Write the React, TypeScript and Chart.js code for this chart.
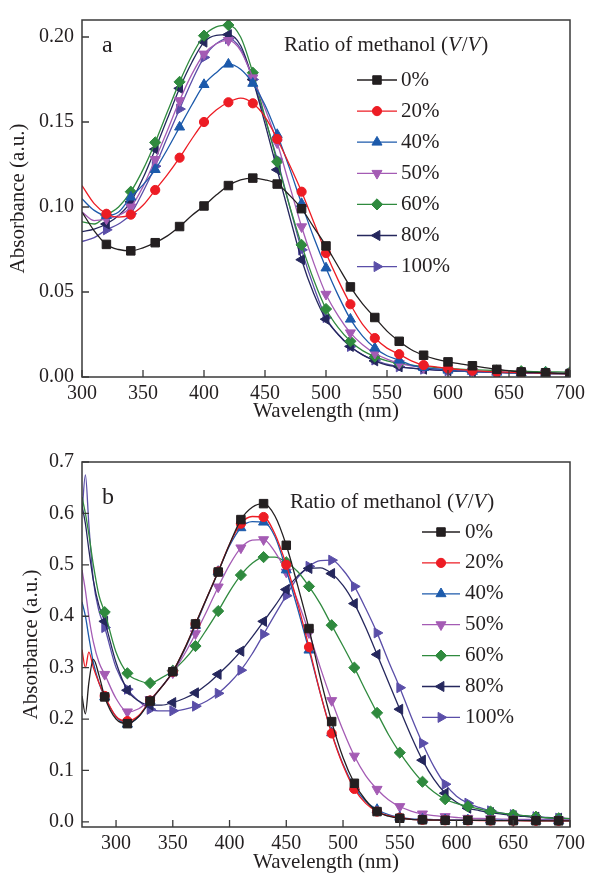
import React, { useEffect, useRef } from 'react';
import { Chart, registerables } from 'chart.js';
import { drawPoint } from 'chart.js/helpers';

Chart.register(...registerables);

const FONT = "'Liberation Serif', 'Times New Roman', serif";
const TEXT = '#231f20';

const seriesLabels = ['0%', '20%', '40%', '50%', '60%', '80%', '100%'];
const seriesColors = ['#231f20', '#ed1c24', '#1c5aab', '#a45bb4', '#2f8a3e', '#25275d', '#5a4ea8'];
const seriesMarkers = ['rect', 'circle', 'triangle', 'triangle', 'rectRot', 'triangle', 'triangle'];
const seriesRotations = [0, 0, 0, 180, 0, -90, 90];
const seriesRadius = [6, 4.6, 5.8, 5.8, 5.6, 5.8, 5.8];

// ---------- Panel a ----------
const wavelengthA = [300, 310, 320, 330, 340, 350, 360, 370, 380, 390, 400, 410, 420, 430, 440, 450, 460, 470, 480, 490, 500, 510, 520, 530, 540, 550, 560, 570, 580, 590, 600, 610, 620, 630, 640, 650, 660, 670, 680, 690, 700];
const absA0 = [0.097, 0.086, 0.078, 0.075, 0.0742, 0.076, 0.079, 0.083, 0.0885, 0.095, 0.1006, 0.107, 0.1126, 0.116, 0.117, 0.116, 0.1135, 0.107, 0.099, 0.088, 0.0771, 0.065, 0.053, 0.043, 0.035, 0.027, 0.021, 0.016, 0.0128, 0.0105, 0.0089, 0.0077, 0.0066, 0.0055, 0.0045, 0.0037, 0.003, 0.0027, 0.0025, 0.0022, 0.002];
const absA20 = [0.1126, 0.102, 0.096, 0.094, 0.0955, 0.101, 0.110, 0.119, 0.129, 0.140, 0.150, 0.157, 0.1616, 0.164, 0.161, 0.153, 0.140, 0.125, 0.109, 0.091, 0.0729, 0.057, 0.0428, 0.031, 0.0229, 0.017, 0.0134, 0.0095, 0.007, 0.006, 0.005, 0.0043, 0.0037, 0.0033, 0.003, 0.0028, 0.0026, 0.0024, 0.0022, 0.002, 0.002];
const absA40 = [0.1048, 0.098, 0.095, 0.097, 0.1058, 0.113, 0.122, 0.134, 0.147, 0.160, 0.172, 0.179, 0.184, 0.181, 0.1727, 0.160, 0.1426, 0.123, 0.102, 0.082, 0.0641, 0.048, 0.034, 0.024, 0.017, 0.0125, 0.0099, 0.007, 0.0055, 0.0047, 0.004, 0.0036, 0.0033, 0.003, 0.0028, 0.0026, 0.0024, 0.0022, 0.0021, 0.002, 0.002];
const absA50 = [0.097, 0.092, 0.093, 0.095, 0.100, 0.112, 0.128, 0.145, 0.1626, 0.178, 0.190, 0.196, 0.198, 0.192, 0.176, 0.158, 0.1378, 0.113, 0.0884, 0.067, 0.0487, 0.036, 0.026, 0.019, 0.014, 0.0105, 0.008, 0.0065, 0.0055, 0.0048, 0.0042, 0.0038, 0.0034, 0.0031, 0.0029, 0.0027, 0.0025, 0.0023, 0.0022, 0.0021, 0.002];
const absA60 = [0.0913, 0.090, 0.0951, 0.100, 0.109, 0.122, 0.138, 0.156, 0.1736, 0.189, 0.2008, 0.206, 0.207, 0.200, 0.179, 0.153, 0.1266, 0.101, 0.0777, 0.057, 0.040, 0.029, 0.021, 0.0155, 0.012, 0.0095, 0.008, 0.007, 0.0062, 0.0056, 0.005, 0.0046, 0.0043, 0.004, 0.0038, 0.0036, 0.0034, 0.0032, 0.003, 0.003, 0.0028];
const absA80 = [0.0855, 0.087, 0.090, 0.095, 0.103, 0.117, 0.134, 0.152, 0.1698, 0.185, 0.197, 0.201, 0.2014, 0.195, 0.175, 0.149, 0.1219, 0.095, 0.069, 0.049, 0.034, 0.025, 0.018, 0.013, 0.0095, 0.007, 0.006, 0.0052, 0.0046, 0.0041, 0.0037, 0.0034, 0.0031, 0.0029, 0.0027, 0.0025, 0.0024, 0.0022, 0.0021, 0.002, 0.002];
const absA100 = [0.0797, 0.082, 0.0866, 0.090, 0.096, 0.109, 0.124, 0.141, 0.1576, 0.174, 0.188, 0.196, 0.199, 0.193, 0.175, 0.152, 0.128, 0.101, 0.0748, 0.053, 0.035, 0.025, 0.018, 0.013, 0.010, 0.0075, 0.006, 0.0052, 0.0046, 0.0041, 0.0037, 0.0034, 0.0031, 0.0029, 0.0027, 0.0025, 0.0024, 0.0022, 0.0021, 0.002, 0.002];
const xTicksA = [300, 350, 400, 450, 500, 550, 600, 650, 700];
const yTicksA = [0, 0.05, 0.1, 0.15, 0.2];

// ---------- Panel b ----------
const wavelengthB = [270, 273, 276, 280, 285, 290, 300, 310, 320, 330, 340, 350, 360, 370, 380, 390, 400, 410, 420, 430, 440, 450, 460, 470, 480, 490, 500, 510, 520, 530, 540, 550, 560, 570, 580, 590, 600, 610, 620, 630, 640, 650, 660, 670, 680, 690, 700];
const absB0 = [0.245, 0.21, 0.27, 0.316, 0.285, 0.243, 0.20, 0.191, 0.205, 0.235, 0.262, 0.292, 0.335, 0.385, 0.436, 0.486, 0.540, 0.588, 0.612, 0.619, 0.595, 0.538, 0.46, 0.376, 0.28, 0.195, 0.125, 0.075, 0.042, 0.02, 0.011, 0.007, 0.005, 0.004, 0.0035, 0.003, 0.003, 0.003, 0.0028, 0.0026, 0.0025, 0.0024, 0.0023, 0.0022, 0.0021, 0.002, 0.002];
const absB20 = [0.335, 0.30, 0.33, 0.30, 0.27, 0.245, 0.205, 0.196, 0.207, 0.236, 0.262, 0.292, 0.335, 0.385, 0.436, 0.487, 0.540, 0.580, 0.594, 0.593, 0.56, 0.50, 0.425, 0.34, 0.25, 0.172, 0.11, 0.064, 0.036, 0.02, 0.012, 0.008, 0.005, 0.004, 0.0035, 0.003, 0.003, 0.0028, 0.0026, 0.0025, 0.0024, 0.0023, 0.0022, 0.0021, 0.002, 0.002, 0.002];
const absB40 = [0.428, 0.40, 0.36, 0.31, 0.27, 0.243, 0.205, 0.19, 0.205, 0.235, 0.262, 0.292, 0.333, 0.382, 0.435, 0.487, 0.537, 0.572, 0.584, 0.583, 0.555, 0.49, 0.415, 0.334, 0.25, 0.173, 0.112, 0.068, 0.04, 0.024, 0.014, 0.009, 0.006, 0.005, 0.0045, 0.004, 0.004, 0.0037, 0.0035, 0.0033, 0.0031, 0.003, 0.003, 0.0028, 0.0027, 0.0026, 0.0025];
const absB50 = [0.49, 0.45, 0.40, 0.35, 0.31, 0.287, 0.24, 0.214, 0.22, 0.238, 0.262, 0.29, 0.325, 0.366, 0.41, 0.457, 0.50, 0.533, 0.548, 0.549, 0.525, 0.486, 0.43, 0.368, 0.30, 0.236, 0.178, 0.128, 0.09, 0.0634, 0.043, 0.0298, 0.021, 0.0155, 0.012, 0.0103, 0.0085, 0.007, 0.0065, 0.006, 0.0055, 0.005, 0.005, 0.0048, 0.0045, 0.004, 0.004];
const absB60 = [0.632, 0.60, 0.56, 0.50, 0.44, 0.408, 0.33, 0.289, 0.275, 0.27, 0.28, 0.294, 0.315, 0.342, 0.375, 0.41, 0.448, 0.48, 0.503, 0.515, 0.515, 0.505, 0.487, 0.458, 0.424, 0.3825, 0.342, 0.30, 0.255, 0.212, 0.17, 0.1346, 0.104, 0.078, 0.058, 0.044, 0.036, 0.03, 0.025, 0.02, 0.017, 0.014, 0.012, 0.01, 0.008, 0.007, 0.006];
const absB80 = [0.615, 0.58, 0.53, 0.47, 0.42, 0.39, 0.31, 0.256, 0.235, 0.227, 0.227, 0.232, 0.24, 0.251, 0.267, 0.287, 0.308, 0.332, 0.36, 0.39, 0.42, 0.452, 0.478, 0.493, 0.494, 0.483, 0.46, 0.4246, 0.378, 0.3256, 0.272, 0.219, 0.167, 0.12, 0.083, 0.0557, 0.038, 0.0266, 0.022, 0.018, 0.015, 0.012, 0.0105, 0.009, 0.008, 0.007, 0.006];
const absB100 = [0.60, 0.675, 0.58, 0.47, 0.41, 0.378, 0.30, 0.258, 0.235, 0.219, 0.216, 0.216, 0.219, 0.225, 0.235, 0.25, 0.27, 0.295, 0.327, 0.365, 0.403, 0.44, 0.475, 0.497, 0.508, 0.509, 0.49, 0.458, 0.415, 0.3676, 0.313, 0.261, 0.205, 0.153, 0.108, 0.0732, 0.05, 0.0363, 0.028, 0.0214, 0.017, 0.014, 0.012, 0.01, 0.0085, 0.007, 0.006];
const xTicksB = [300, 350, 400, 450, 500, 550, 600, 650, 700];
const yTicksB = [0, 0.1, 0.2, 0.3, 0.4, 0.5, 0.6, 0.7];

type PanelOpts = {
  label: string; labelX: number; labelY: number;
  titleX: number; titleY: number;
  lineX0: number; lineX1: number; textX: number;
  rowY0: number; rowDY: number;
};

const decorPlugin = {
  id: 'decor',
  afterDraw(chart: any, _args: any, opts: PanelOpts) {
    const ctx = chart.ctx;
    const ca = chart.chartArea;
    const xs = chart.scales.x;
    const ys = chart.scales.y;
    ctx.save();
    // inward ticks
    ctx.strokeStyle = '#3a3a3a';
    ctx.lineWidth = 1.3;
    ctx.beginPath();
    xs.ticks.forEach((t: any) => {
      const px = xs.getPixelForValue(t.value);
      ctx.moveTo(px, ca.bottom);
      ctx.lineTo(px, ca.bottom - 7);
    });
    ys.ticks.forEach((t: any) => {
      const py = ys.getPixelForValue(t.value);
      ctx.moveTo(ca.left, py);
      ctx.lineTo(ca.left + 7, py);
    });
    ctx.stroke();
    // frame
    ctx.lineWidth = 1.5;
    ctx.strokeRect(ca.left, ca.top, ca.right - ca.left, ca.bottom - ca.top);

    // panel label
    ctx.fillStyle = TEXT;
    ctx.textBaseline = 'middle';
    ctx.textAlign = 'left';
    ctx.font = `24px ${FONT}`;
    ctx.fillText(opts.label, opts.labelX, opts.labelY);

    // legend title
    const parts: [string, boolean][] = [['Ratio of methanol (', false], ['V', true], ['/', false], ['V', true], [')', false]];
    let x = opts.titleX;
    parts.forEach(([s, it]) => {
      ctx.font = `${it ? 'italic ' : ''}21px ${FONT}`;
      ctx.fillText(s, x, opts.titleY);
      x += ctx.measureText(s).width + (it ? 1 : 0);
    });

    // legend items
    ctx.font = `21px ${FONT}`;
    chart.data.datasets.forEach((ds: any, i: number) => {
      const y = opts.rowY0 + i * opts.rowDY;
      ctx.strokeStyle = ds.borderColor;
      ctx.lineWidth = 1.3;
      ctx.beginPath();
      ctx.moveTo(opts.lineX0, y);
      ctx.lineTo(opts.lineX1, y);
      ctx.stroke();
      ctx.fillStyle = ds.borderColor;
      ctx.strokeStyle = ds.borderColor;
      ctx.lineWidth = 1;
      drawPoint(ctx, { pointStyle: ds.pointStyle, rotation: ds.pointRotation, radius: ds.markerSize, borderWidth: 1 } as any, (opts.lineX0 + opts.lineX1) / 2, y);
      ctx.fillStyle = TEXT;
      ctx.fillText(ds.label, opts.textX, y);
    });
    ctx.restore();
  },
};

function buildDatasets(xs: number[], series: number[][], isMarker: (w: number) => boolean) {
  return series.map((vals, i) => ({
    label: seriesLabels[i],
    data: xs.map((w, j) => ({ x: w, y: vals[j] })),
    borderColor: seriesColors[i],
    backgroundColor: seriesColors[i],
    borderWidth: 1.3,
    pointStyle: seriesMarkers[i],
    pointRotation: seriesRotations[i],
    markerSize: seriesRadius[i],
    pointBackgroundColor: seriesColors[i],
    pointBorderColor: seriesColors[i],
    pointBorderWidth: 1,
    pointRadius: (c: any) => (c.raw && isMarker(c.raw.x) ? seriesRadius[i] : 0),
    pointHoverRadius: 0,
    cubicInterpolationMode: 'monotone',
    fill: false,
  }));
}

type PanelCfg = {
  xs: number[]; series: number[][]; isMarker: (w: number) => boolean;
  xMin: number; xMax: number; yMin: number; yMax: number;
  xTicks: number[]; yTicks: number[]; yDecimals: number;
  padTop: number; padRight: number; yWidth: number; xHeight: number;
  yTitlePad: number; xTitlePadBottom: number;
  decor: PanelOpts;
};

function PanelChart({ cfg, width, height, top }: { cfg: PanelCfg; width: number; height: number; top: number }) {
  const ref = useRef<HTMLCanvasElement | null>(null);
  useEffect(() => {
    if (!ref.current) return;
    const tickFont = { family: FONT, size: 20 };
    const titleFont = { family: FONT, size: 21 };
    const chart = new Chart(ref.current, {
      type: 'line',
      data: { datasets: buildDatasets(cfg.xs, cfg.series, cfg.isMarker) as any },
      plugins: [decorPlugin as any],
      options: {
        responsive: false,
        animation: false,
        devicePixelRatio: 1,
        events: [],
        layout: { padding: { top: cfg.padTop, right: cfg.padRight, left: 0, bottom: 0 } },
        plugins: {
          legend: { display: false },
          tooltip: { enabled: false },
          decor: cfg.decor,
        } as any,
        scales: {
          x: {
            type: 'linear',
            min: cfg.xMin,
            max: cfg.xMax,
            grid: { display: false, drawTicks: false },
            border: { display: false },
            ticks: { font: tickFont, color: TEXT, padding: 5, autoSkip: false, maxRotation: 0, callback: (v: any) => String(v) },
            afterBuildTicks: (s: any) => { s.ticks = cfg.xTicks.map((v) => ({ value: v })); },
            afterFit: (s: any) => { s.height = cfg.xHeight; },
            title: { display: true, text: 'Wavelength (nm)', font: titleFont, color: TEXT, padding: { top: 0, bottom: cfg.xTitlePadBottom } },
          },
          y: {
            type: 'linear',
            min: cfg.yMin,
            max: cfg.yMax,
            grid: { display: false, drawTicks: false },
            border: { display: false },
            ticks: { font: tickFont, color: TEXT, padding: 8, autoSkip: false, callback: (v: any) => Number(v).toFixed(cfg.yDecimals) },
            afterBuildTicks: (s: any) => { s.ticks = cfg.yTicks.map((v) => ({ value: v })); },
            afterFit: (s: any) => { s.width = cfg.yWidth; },
            title: { display: true, text: 'Absorbance (a.u.)', font: titleFont, color: TEXT, padding: { top: cfg.yTitlePad, bottom: 0 } },
          },
        },
      } as any,
    });
    return () => chart.destroy();
  }, [cfg]);
  return (
    <canvas
      ref={ref}
      width={width}
      height={height}
      style={{ position: 'absolute', left: 0, top, width, height, display: 'block' }}
    />
  );
}

const panelA: PanelCfg = {
  xs: wavelengthA,
  series: [absA0, absA20, absA40, absA50, absA60, absA80, absA100],
  isMarker: (w) => w >= 320 && w % 20 === 0,
  xMin: 300, xMax: 700, yMin: 0, yMax: 0.21,
  xTicks: xTicksA, yTicks: yTicksA, yDecimals: 2,
  padTop: 16, padRight: 17, yWidth: 82, xHeight: 53,
  yTitlePad: 6, xTitlePadBottom: 6,
  decor: { label: 'a', labelX: 102, labelY: 46, titleX: 284, titleY: 45, lineX0: 357, lineX1: 397, textX: 401, rowY0: 80, rowDY: 31.1 },
};

const panelB: PanelCfg = {
  xs: wavelengthB,
  series: [absB0, absB20, absB40, absB50, absB60, absB80, absB100],
  isMarker: (w) => w >= 290 && (w - 290) % 20 === 0,
  xMin: 270, xMax: 700, yMin: -0.01, yMax: 0.7,
  xTicks: xTicksB, yTicks: yTicksB, yDecimals: 1,
  padTop: 22, padRight: 17, yWidth: 82, xHeight: 48,
  yTitlePad: 19, xTitlePadBottom: 0,
  decor: { label: 'b', labelX: 102, labelY: 58, titleX: 290, titleY: 62, lineX0: 422, lineX1: 460, textX: 465, rowY0: 92, rowDY: 30.9 },
};

export default function App() {
  return (
    <div style={{ position: 'absolute', left: 0, top: 0, width: 590, height: 875, background: '#fff' }}>
      <PanelChart cfg={panelA} width={590} height={430} top={0} />
      <PanelChart cfg={panelB} width={590} height={435} top={440} />
    </div>
  );
}
